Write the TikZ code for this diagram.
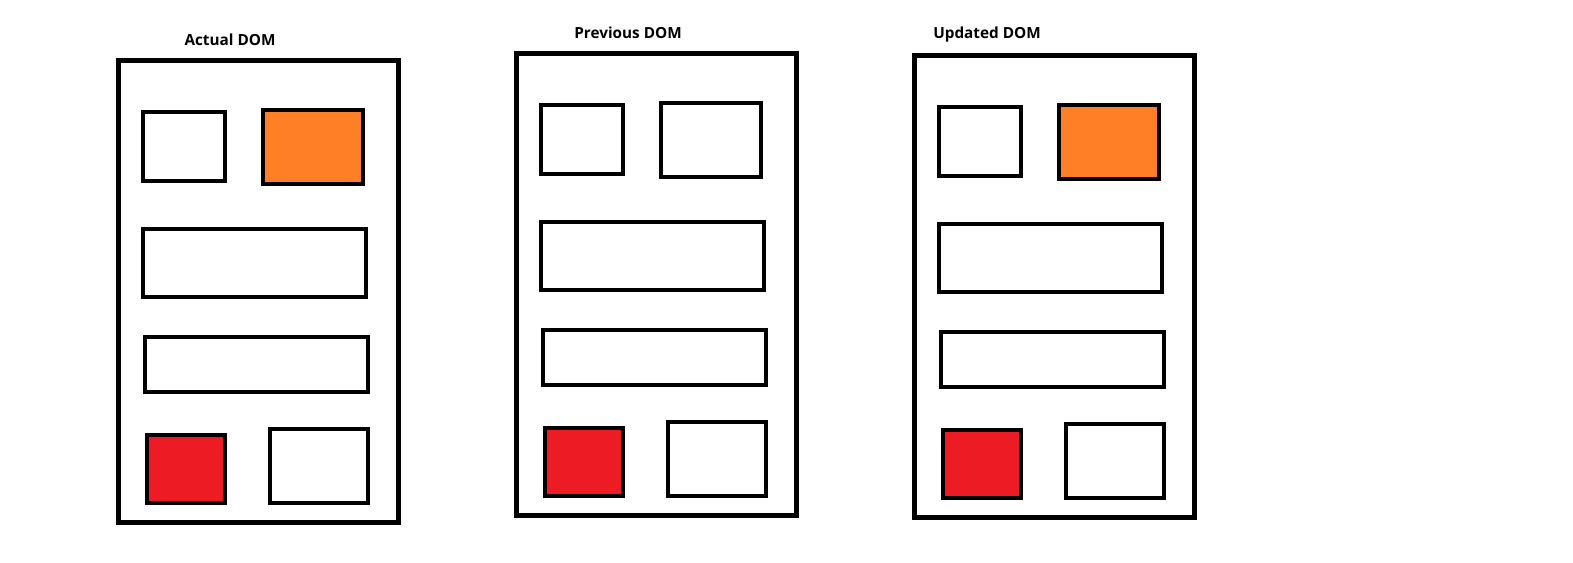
\documentclass[tikz,border=0pt]{standalone}
\usepackage{fontspec}
\setmainfont{Open Sans}
\definecolor{paintorange}{RGB}{255,127,39}
\definecolor{paintred}{RGB}{237,28,36}
\tikzset{
  frame/.style={draw, line width=4.5pt, inner sep=0pt, minimum width=280pt, minimum height=462pt},
  elem/.style={draw, line width=4pt, inner sep=0pt},
  title/.style={font=\fontsize{15.3}{18}\selectfont\bfseries}
}
\begin{document}
\begin{tikzpicture}[x=1pt,y=-1pt]
\useasboundingbox (0,0) rectangle (1573,562);

\foreach \p/\dx/\dy/\lx/\ly/\txt/\col in {act/0/0/230/40/Actual DOM/paintorange, prev/398/-7/628/33/Previous DOM/white, upd/796/-5/987/35/Updated DOM/paintorange} {
  \node [title] (\p-title) at (\lx,\ly) {\txt};
  \begin{scope}[shift={(\dx,\dy)}]
    \node [frame] (\p-frame) at (258.5,291.5) {};
    \node [elem, minimum width=82pt, minimum height=69pt] (\p-small) at (183.5,146) {};
    \node [elem, fill=\col, minimum width=100pt, minimum height=74pt] (\p-top) at (312.5,146.5) {};
    \node [elem, minimum width=223pt, minimum height=68pt] (\p-wide1) at (254,262.5) {};
    \node [elem, minimum width=223pt, minimum height=55pt] (\p-wide2) at (256,364) {};
    \node [elem, fill=paintred, minimum width=78pt, minimum height=68pt] (\p-red) at (185.5,468.5) {};
    \node [elem, minimum width=98pt, minimum height=74pt] (\p-last) at (318.5,465.5) {};
  \end{scope}
}

\end{tikzpicture}
\end{document}
